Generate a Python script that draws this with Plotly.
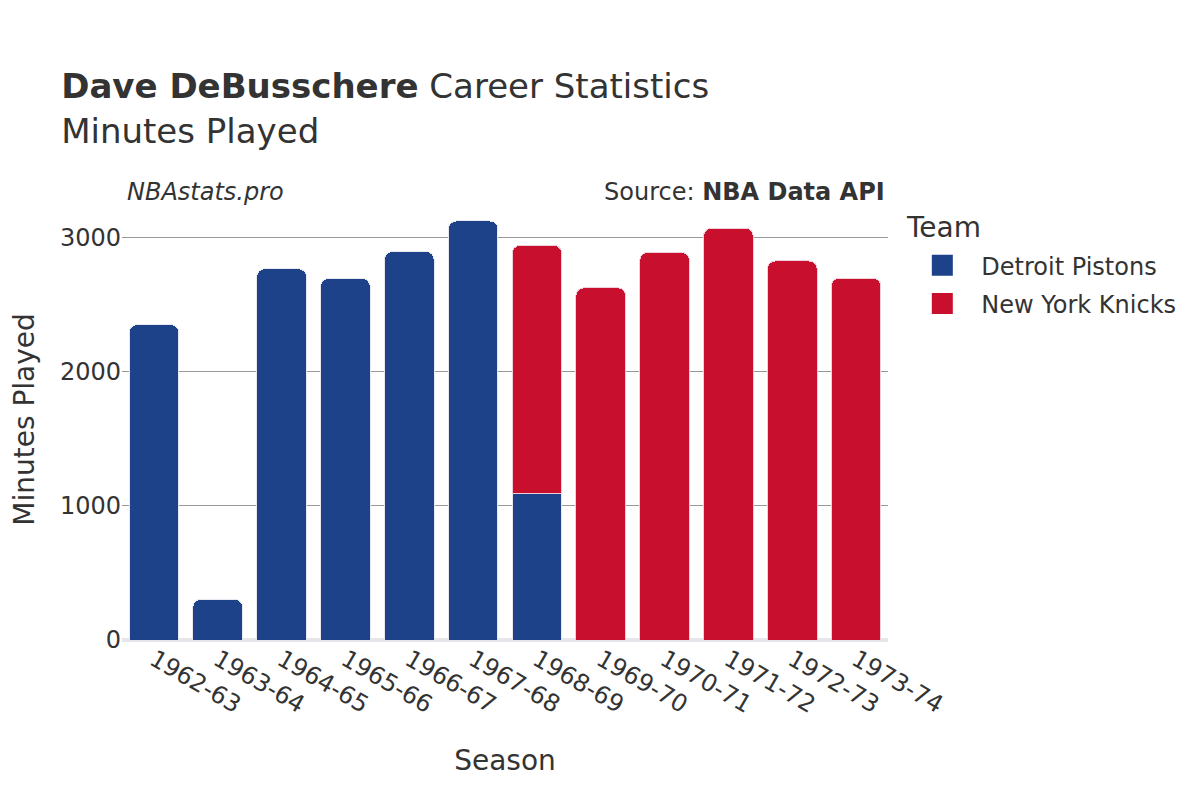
import plotly.graph_objects as go

seasons = ["1962-63", "1963-64", "1964-65", "1965-66", "1966-67", "1967-68",
           "1968-69", "1969-70", "1970-71", "1971-72", "1972-73", "1973-74"]
pistons_seasons = ["1962-63", "1963-64", "1964-65", "1965-66", "1966-67", "1967-68", "1968-69"]
pistons_minutes = [2352, 304, 2769, 2696, 2897, 3125, 1092]
knicks_seasons = ["1968-69", "1969-70", "1970-71", "1971-72", "1972-73", "1973-74"]
knicks_minutes = [1851, 2627, 2891, 3072, 2827, 2699]

font_family = "DejaVu Sans"
text_color = "#333333"
pistons_color = "#1D428A"
knicks_color = "#C8102E"

fig = go.Figure()
fig.add_trace(go.Bar(x=pistons_seasons, y=pistons_minutes, name="Detroit Pistons",
                     legendgroup="det", showlegend=False,
                     marker=dict(color=pistons_color, line=dict(color="#E8E8F0", width=1))))
fig.add_trace(go.Bar(x=knicks_seasons, y=knicks_minutes, name="New York Knicks",
                     legendgroup="nyk", showlegend=False,
                     marker=dict(color=knicks_color, line=dict(color="#F0D0D8", width=1))))
# legend entries
fig.add_trace(go.Scatter(x=[None], y=[None], mode="markers", name="Detroit Pistons",
                         legendgroup="det",
                         marker=dict(symbol="square", size=16, color=pistons_color,
                                     line=dict(color=pistons_color, width=5))))
fig.add_trace(go.Scatter(x=[None], y=[None], mode="markers", name="New York Knicks",
                         legendgroup="nyk",
                         marker=dict(symbol="square", size=16, color=knicks_color,
                                     line=dict(color=knicks_color, width=5))))

fig.update_layout(
    width=1200, height=800,
    barmode="stack",
    barcornerradius=8,
    bargap=0.22,
    paper_bgcolor="white", plot_bgcolor="white",
    font=dict(family=font_family, color=text_color, size=24),
    margin=dict(l=114, r=320, t=191, b=168),
    title=dict(text="<b>Dave DeBusschere</b> Career Statistics<br>Minutes Played",
               x=0.0443, xanchor="left", y=0.887, yanchor="top",
               font=dict(size=34, family=font_family, color=text_color)),
    legend=dict(font=dict(size=24),
                x=1.02, xanchor="left", y=0.900, yanchor="top",
                traceorder="grouped", tracegroupgap=4, itemwidth=68),
    xaxis=dict(categoryorder="array", categoryarray=seasons, tickangle=30,
               range=[-0.5, 11.5], automargin=False,
               title=dict(text="Season", font=dict(size=28), standoff=32),
               showgrid=False, tickfont=dict(size=24)),
    yaxis=dict(title=dict(text="Minutes Played", font=dict(size=28), standoff=50),
               automargin=False,
               showgrid=True, gridcolor="#999999", gridwidth=1,
               zeroline=True, zerolinecolor="#E5E5EA", zerolinewidth=4,
               tickvals=[0, 1000, 2000, 3000], tickfont=dict(size=24),
               range=[0, 3289]),
)

fig.add_annotation(text="Team", xref="paper", yref="paper",
                   x=1.0209, y=0.9365, xanchor="left", yanchor="middle",
                   showarrow=False, font=dict(size=28, color=text_color))
fig.add_annotation(text="<i>NBAstats.pro</i>", xref="paper", yref="paper",
                   x=0.004, y=0.979, xanchor="left", yanchor="bottom",
                   showarrow=False, font=dict(size=24, color=text_color))
fig.add_annotation(text="Source: <b>NBA Data API</b>", xref="paper", yref="paper",
                   x=0.999, y=0.979, xanchor="right", yanchor="bottom",
                   showarrow=False, font=dict(size=24, color=text_color))

fig.write_html("out.html")
